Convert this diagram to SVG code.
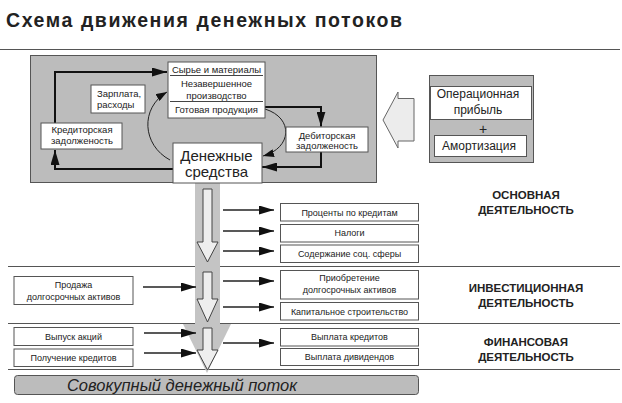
<svg xmlns="http://www.w3.org/2000/svg" width="622" height="403" viewBox="0 0 622 403">
<defs>
<marker id="ah" markerUnits="userSpaceOnUse" markerWidth="16" markerHeight="9" refX="15" refY="4.5" orient="auto">
<path d="M0,0 L15,4.5 L0,9 Z" fill="#111"/>
</marker>
<marker id="ahs" markerUnits="userSpaceOnUse" markerWidth="12" markerHeight="8" refX="11" refY="4" orient="auto">
<path d="M0,0 L11,4 L0,8 Z" fill="#111"/>
</marker>
</defs>
<style>
text{font-family:"Liberation Sans",Arial,sans-serif;fill:#222}
.box{fill:#fff;stroke:#555;stroke-width:1}
.gray{fill:#bcbcbc;stroke:#555;stroke-width:1}
.band{fill:#c4c4c4}
.hollow{fill:#eeeeee;stroke:#444;stroke-width:1}
.conn{fill:none;stroke:#111;stroke-width:2}
.curve{fill:none;stroke:#222;stroke-width:1}
.arr{fill:none;stroke:#222;stroke-width:1.6}
.rule{stroke:#555;stroke-width:1}
.s{font-size:9px;text-anchor:middle}
.m{font-size:9.5px;text-anchor:middle}
.lab{font-size:11.5px;font-weight:bold;text-anchor:middle}
</style>
<rect width="622" height="403" fill="#fff"/>
<text x="6" y="27" font-size="19.5" font-weight="bold" textLength="396" lengthAdjust="spacing">Схема движения денежных потоков</text>
<line class="rule" x1="0" y1="49.5" x2="620" y2="49.5"/>
<line class="rule" x1="8" y1="266.5" x2="620" y2="266.5"/>
<line class="rule" x1="8" y1="323.5" x2="620" y2="323.5"/>
<line class="rule" x1="8" y1="369.5" x2="620" y2="369.5"/>

<g id="main-panel">
<rect class="gray" x="30.5" y="55.5" width="346" height="127"/>
</g>
<g id="flow-band">
<rect class="band" x="195" y="183" width="25" height="84"/>
<rect class="band" x="195" y="267" width="25" height="57"/>
<polygon class="band" points="183,324 231,324 207,373"/>
<polygon class="hollow" points="203,189 212,189 212,242 218,242 207.5,262 197,242 203,242"/>
<polygon class="hollow" points="203,272 212,272 212,299 218,299 207.5,322 197,299 203,299"/>
<polygon class="hollow" points="203,328 212,328 212,350 218,350 207.5,370 197,350 203,350"/>
</g>

<g id="connectors">
<path class="conn" d="M55,123 V72 H167" marker-end="url(#ah)"/>
<path class="conn" d="M173,169 H55 V150" marker-end="url(#ah)"/>
<path class="conn" d="M265,107 H321 V126.5" marker-end="url(#ah)"/>
<path class="conn" d="M321,152 V167 H262" marker-end="url(#ah)"/>
<path class="curve" d="M170,160 C142,145 140,108 167,92" marker-end="url(#ahs)"/>
<path class="curve" d="M265,109 C294,118 292,148 263,156" marker-end="url(#ahs)"/>
<path class="arr" d="M223,210 H274" marker-end="url(#ah)"/>
<path class="arr" d="M223,231 H274" marker-end="url(#ah)"/>
<path class="arr" d="M223,251 H274" marker-end="url(#ah)"/>
<path class="arr" d="M223,281 H274" marker-end="url(#ah)"/>
<path class="arr" d="M223,307 H274" marker-end="url(#ah)"/>
<path class="arr" d="M223,343 H274" marker-end="url(#ah)"/>
<path class="arr" d="M143,287 H196" marker-end="url(#ah)"/>
<path class="arr" d="M144,333 H196" marker-end="url(#ah)"/>
<path class="arr" d="M144,353 H196" marker-end="url(#ah)"/>
<polygon points="383,120 398,92 398,98.5 414,98.5 414,141 398,141 398,148" fill="#ececec" stroke="#666" stroke-width="1"/>
</g>

<g id="node-stocks">
<rect class="box" x="168" y="62" width="97" height="56"/>
<line x1="170" y1="75.5" x2="263" y2="75.5" stroke="#444" stroke-width="1"/>
<line x1="170" y1="101.5" x2="263" y2="101.5" stroke="#444" stroke-width="1"/>
<text class="m" x="216.5" y="73">Сырье и материалы</text>
<text class="m" x="216.5" y="87">Незавершенное</text>
<text class="m" x="216.5" y="98.5">производство</text>
<text class="m" x="216.5" y="113">Готовая продукция</text>
</g>
<g id="node-salary">
<rect class="box" x="91" y="85" width="54" height="28"/>
<text x="97" y="97" font-size="9.5">Зарплата,</text>
<text x="97" y="108" font-size="9.5">расходы</text>
</g>
<g id="node-payables">
<rect class="box" x="41" y="123" width="81" height="26"/>
<text class="m" x="82" y="133">Кредиторская</text>
<text class="m" x="82" y="143.5">задолженость</text>
</g>
<g id="node-receivables">
<rect class="box" x="286" y="127" width="82" height="25"/>
<text class="m" x="327" y="138.5">Дебиторская</text>
<text class="m" x="327" y="148.5">задолженость</text>
</g>
<g id="node-cash">
<rect class="box" x="173" y="143" width="89" height="40"/>
<text x="216.5" y="161" font-size="15" text-anchor="middle">Денежные</text>
<text x="216.5" y="177" font-size="15" text-anchor="middle">средства</text>
</g>
<g id="node-profit">
<rect class="gray" x="429.5" y="75.5" width="104" height="87"/>
<rect class="box" x="430.5" y="86.5" width="101" height="33"/>
<text x="478" y="97.5" font-size="12" text-anchor="middle">Операционная</text>
<text x="478" y="113.5" font-size="12" text-anchor="middle">прибыль</text>
<text x="483" y="133.5" font-size="14" text-anchor="middle">+</text>
<rect class="box" x="434.5" y="135.5" width="92" height="21"/>
<text x="479" y="150" font-size="12" text-anchor="middle">Амортизация</text>
</g>

<g id="node-interest"><rect class="box" x="280.5" y="203.5" width="138" height="17.5"/><text class="s" x="349.5" y="215.5">Проценты по кредитам</text></g>
<g id="node-taxes"><rect class="box" x="280.5" y="224.5" width="138" height="17.5"/><text class="s" x="349.5" y="236">Налоги</text></g>
<g id="node-social"><rect class="box" x="280.5" y="245" width="138" height="17.5"/><text class="s" x="349.5" y="256.5">Содержание соц. сферы</text></g>
<g id="node-acquire"><rect class="box" x="280.5" y="270.5" width="138" height="28.5"/><text class="s" x="349.5" y="281">Приобретение</text><text class="s" x="349.5" y="292.5">долгосрочных активов</text></g>
<g id="node-capital"><rect class="box" x="280.5" y="302.5" width="138" height="17.5"/><text class="s" x="349.5" y="314.5">Капитальное строительство</text></g>
<g id="node-repay"><rect class="box" x="280.5" y="328.5" width="138" height="17.5"/><text class="s" x="349.5" y="339.5">Выплата кредитов</text></g>
<g id="node-dividends"><rect class="box" x="280.5" y="348.5" width="138" height="17"/><text class="s" x="349.5" y="360">Выплата дивидендов</text></g>
<g id="node-sale"><rect class="box" x="14" y="276.5" width="119" height="28"/><text class="s" x="73.5" y="288">Продажа</text><text class="s" x="73.5" y="299.5">долгосрочных активов</text></g>
<g id="node-shares"><rect class="box" x="14" y="327.5" width="119" height="18"/><text class="s" x="73.5" y="339.5">Выпуск акций</text></g>
<g id="node-loans"><rect class="box" x="14" y="349" width="119" height="17.5"/><text class="s" x="73.5" y="361">Получение кредитов</text></g>
<g id="node-total"><rect class="gray" x="14.5" y="375.5" width="404" height="19" rx="3"/><text x="182" y="391" font-size="16.5" font-style="italic" text-anchor="middle">Совокупный денежный поток</text></g>

<g id="section-labels">
<text class="lab" x="526" y="198.5">ОСНОВНАЯ</text>
<text class="lab" x="526" y="213.5">ДЕЯТЕЛЬНОСТЬ</text>
<text class="lab" x="526" y="292">ИНВЕСТИЦИОННАЯ</text>
<text class="lab" x="526" y="307">ДЕЯТЕЛЬНОСТЬ</text>
<text class="lab" x="526" y="346">ФИНАНСОВАЯ</text>
<text class="lab" x="526" y="360.5">ДЕЯТЕЛЬНОСТЬ</text>
</g>
</svg>
